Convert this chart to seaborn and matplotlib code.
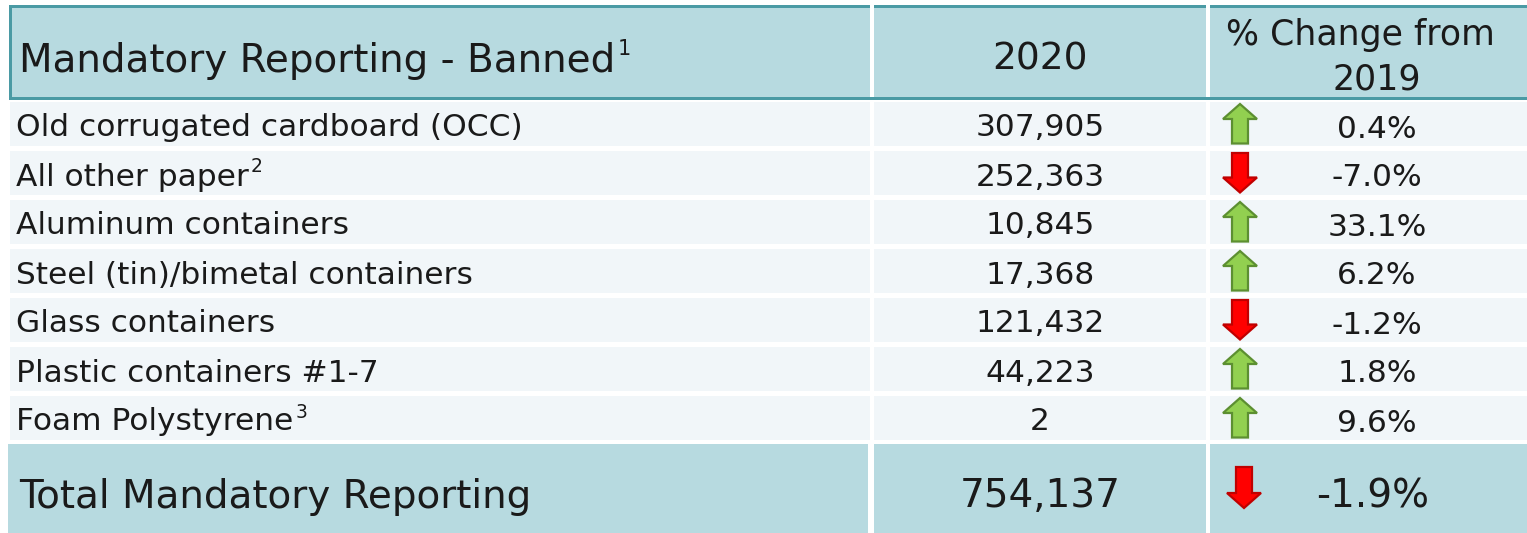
import seaborn as sns
import matplotlib.pyplot as plt
from matplotlib.patches import Rectangle, Polygon

# table content
header_label = "Mandatory Reporting - Banned"
header_year = "2020"
header_change = ["% Change from", "2019"]

materials = [
    "Old corrugated cardboard (OCC)",
    "All other paper",
    "Aluminum containers",
    "Steel (tin)/bimetal containers",
    "Glass containers",
    "Plastic containers #1-7",
    "Foam Polystyrene",
]
footnotes = ["", "2", "", "", "", "", "3"]
tons_2020 = [307905, 252363, 10845, 17368, 121432, 44223, 2]
pct_change = [0.4, -7.0, 33.1, 6.2, -1.2, 1.8, 9.6]

total_label = "Total Mandatory Reporting"
total_2020 = 754137
total_change = -1.9

# colours
HEAD_BG = "#b7dae0"
TEAL = "#4a9aa4"
ROW_BG = "#f1f6f9"
TXT = "#1a1a1a"
UP_FILL, UP_EDGE = "#92d050", "#5c8f31"
DN_FILL, DN_EDGE = "#ff0000", "#c00000"

sns.set_theme(style="white")
plt.rcParams["font.family"] = ["DejaVu Sans"]

W, H = 1527, 533
fig = plt.figure(figsize=(W / 100, H / 100), dpi=100)
ax = fig.add_axes([0, 0, 1, 1])
ax.set_xlim(0, W)
ax.set_ylim(H, 0)
ax.axis("off")

# column geometry (pixels)
cols = [(10, 870), (874, 1206), (1210, 1540)]
col2_mid = 1040
pct_mid = 1377
arrow_x = 1240

# header block
for x0, x1 in cols:
    ax.add_patch(Rectangle((x0, 6), x1 - x0, 92, color=HEAD_BG, lw=0))
    ax.add_patch(Rectangle((x0, 5), x1 - x0, 2.5, color=TEAL, lw=0))
ax.add_patch(Rectangle((9, 5), 2.5, 95, color=TEAL, lw=0))
ax.add_patch(Rectangle((9, 97), W, 3, color=TEAL, lw=0))

fig.canvas.draw()
rend = fig.canvas.get_renderer()


def sup(txt_obj, s, size, dy):
    bb = txt_obj.get_window_extent(rend)
    x = bb.x1 + 2
    y = txt_obj.get_position()[1] - dy
    ax.text(x, y, s, fontsize=size, color=TXT, ha="left", va="baseline")


t = ax.text(19, 72, header_label, fontsize=28, color=TXT, va="baseline")
sup(t, "1", 15, 17)
ax.text(col2_mid, 70, header_year, fontsize=27, color=TXT, ha="center", va="baseline")
ax.text(1226, 45, header_change[0], fontsize=25, color=TXT, ha="left", va="baseline")
ax.text(pct_mid, 89, header_change[1], fontsize=25, color=TXT, ha="center", va="baseline")


def arrow(cx, top, bot, up):
    hw, sw, hl = 17, 8, 15
    if up:
        pts = [(cx, top), (cx + hw, top + hl), (cx + sw, top + hl), (cx + sw, bot),
               (cx - sw, bot), (cx - sw, top + hl), (cx - hw, top + hl)]
        fc, ec = UP_FILL, UP_EDGE
    else:
        pts = [(cx, bot), (cx + hw, bot - hl), (cx + sw, bot - hl), (cx + sw, top),
               (cx - sw, top), (cx - sw, bot - hl), (cx - hw, bot - hl)]
        fc, ec = DN_FILL, DN_EDGE
    ax.add_patch(Polygon(pts, closed=True, fc=fc, ec=ec, lw=1.6, joinstyle="miter"))


# body rows
row_h, pitch, y0 = 44, 49, 101.5
for i, (name, fn, val, chg) in enumerate(zip(materials, footnotes, tons_2020, pct_change)):
    top = y0 + i * pitch
    for x0, x1 in cols:
        ax.add_patch(Rectangle((x0, top), x1 - x0, row_h, color=ROW_BG, lw=0))
    base = top + 35
    t = ax.text(16, base, name, fontsize=22.5, color=TXT, va="baseline")
    if fn:
        sup(t, fn, 13.5, 13)
    ax.text(col2_mid, base, f"{val:,}", fontsize=22.5, color=TXT, ha="center", va="baseline")
    ax.text(pct_mid, base + 1, f"{chg:.1f}%", fontsize=22.5, color=TXT, ha="center", va="baseline")
    arrow(arrow_x, top + 2.5, top + 42, chg >= 0)

# total row
top = 444
for x0, x1 in cols:
    ax.add_patch(Rectangle((x0 - 2 if x0 == 10 else x0, top), x1 - x0, H - top, color=HEAD_BG, lw=0))
ax.text(19, 508, total_label, fontsize=28, color=TXT, va="baseline")
ax.text(col2_mid, 507, f"{total_2020:,}", fontsize=28, color=TXT, ha="center", va="baseline")
ax.text(pct_mid - 4, 507, f"{total_change:.1f}%", fontsize=28, color=TXT, ha="center", va="baseline")
arrow(1244, 467, 508, total_change >= 0)

fig.savefig("out.png", dpi=100)
